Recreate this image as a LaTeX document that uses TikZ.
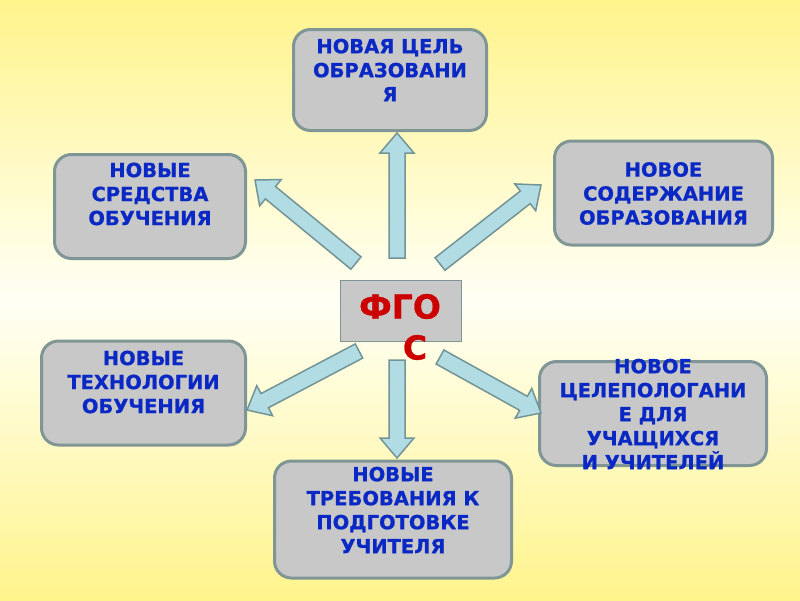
\documentclass[tikz,border=0pt]{standalone}
\usepackage{fontspec}
\setmainfont{DejaVu Sans}
\newfontfamily\heavyfont{DejaVu Sans Bold}[FakeBold=0.8]
\usetikzlibrary{calc}
\definecolor{bgY}{RGB}{255,244,140}
\definecolor{bgW}{RGB}{255,255,245}
\definecolor{boxfill}{RGB}{200,200,200}
\definecolor{boxline}{RGB}{128,150,150}
\definecolor{txtblue}{RGB}{10,40,195}
\definecolor{txtred}{RGB}{205,0,0}
\definecolor{arrfill}{RGB}{178,220,228}
\definecolor{arrline}{RGB}{115,148,150}
\tikzset{
  box/.style={draw=boxline, line width=3pt, fill=boxfill, rounded corners=17pt, inner sep=0pt},
  cbox/.style={draw=boxline, line width=1.5pt, fill=boxfill, inner sep=0pt},
  txt/.style={text=txtblue, align=center, inner sep=0pt, font=\heavyfont\fontsize{19.5}{24}\selectfont},
  ctxt/.style={text=txtred, align=center, inner sep=0pt, font=\heavyfont\fontsize{33}{41}\selectfont},
  arr/.style={draw=arrline, line width=1.5pt, fill=arrfill, line join=miter}
}
\newcommand\blockarrow[2]{%
  \coordinate (P) at ($(#2)!20pt!(#1)$);
  \draw[arr] ($(#1)!8pt!90:(#2)$) -- ($(P)!8pt!90:(#2)$) -- ($(P)!17pt!90:(#2)$) -- (#2)
    -- ($(P)!17pt!-90:(#2)$) -- ($(P)!8pt!-90:(#2)$) -- ($(#1)!8pt!-90:(#2)$) -- cycle;}
\begin{document}
\begin{tikzpicture}[x=1pt,y=-1pt]
\useasboundingbox (0,0) rectangle (800,600);
\shade[top color=bgY, bottom color=bgY, middle color=bgW] (0,0) rectangle (800,600);

% boxes
\node[box, minimum width=193, minimum height=101] (b1) at (390,80) {};
\node[box, minimum width=191, minimum height=104] (b2) at (150,206.5) {};
\node[box, minimum width=218, minimum height=104] (b3) at (663.5,193) {};
\node[box, minimum width=204, minimum height=104] (b4) at (143.5,393) {};
\node[box, minimum width=227, minimum height=104] (b5) at (653,413.5) {};
\node[box, minimum width=237, minimum height=117] (b6) at (393,519.5) {};
\node[cbox, minimum width=121, minimum height=61] (c) at (401,311) {};

% texts
\node[txt] (t1) at (390,70) {НОВАЯ ЦЕЛЬ\\ОБРАЗОВАНИ\\Я};
\node[txt] (t2) at (150,194) {НОВЫЕ\\СРЕДСТВА\\ОБУЧЕНИЯ};
\node[txt] (t3) at (663.5,193.5) {НОВОЕ\\СОДЕРЖАНИЕ\\ОБРАЗОВАНИЯ};
\node[txt] (t4) at (143.5,382) {НОВЫЕ\\ТЕХНОЛОГИИ\\ОБУЧЕНИЯ};
\node[txt] (t5) at (653,414) {НОВОЕ\\ЦЕЛЕПОЛОГАНИ\\Е ДЛЯ\\УЧАЩИХСЯ\\И УЧИТЕЛЕЙ};
\node[txt] (t6) at (393,510) {НОВЫЕ\\ТРЕБОВАНИЯ К\\ПОДГОТОВКЕ\\УЧИТЕЛЯ};
\node[ctxt] (ct) at (400,327) {ФГО\\\hspace*{30pt}С};

% arrow ends
\coordinate (u0) at (397,258);  \coordinate (u1) at (397,133);
\coordinate (ul0) at (356,263); \coordinate (ul1) at (255,180);
\coordinate (ur0) at (440,264); \coordinate (ur1) at (541,185);
\coordinate (ll0) at (359,351); \coordinate (ll1) at (247,410);
\coordinate (lr0) at (440,357); \coordinate (lr1) at (541,413);
\coordinate (d0) at (397,360);  \coordinate (d1) at (397,458);

\blockarrow{u0}{u1}
\blockarrow{ul0}{ul1}
\blockarrow{ur0}{ur1}
\blockarrow{ll0}{ll1}
\blockarrow{lr0}{lr1}
\blockarrow{d0}{d1}
\end{tikzpicture}
\end{document}
